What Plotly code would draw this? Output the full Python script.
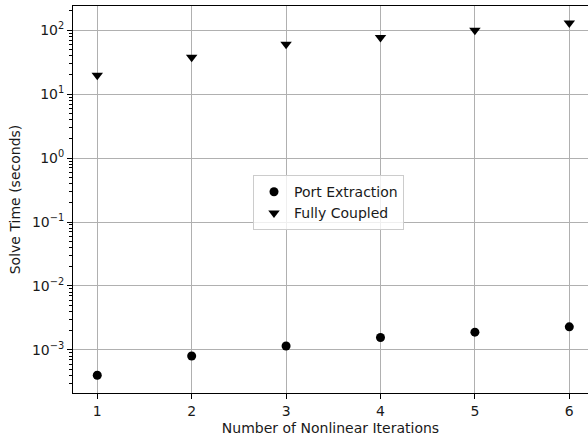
import plotly.graph_objects as go

iterations = [1, 2, 3, 4, 5, 6]
port_extraction = [4.0e-4, 8.0e-4, 1.15e-3, 1.56e-3, 1.89e-3, 2.29e-3]
fully_coupled = [19.8, 37.8, 60.5, 77.0, 100.0, 130.0]

ytick_vals = [1e-3, 1e-2, 1e-1, 1e0, 1e1, 1e2]
ytick_text = ["10<sup>−3</sup>", "10<sup>−2</sup>", "10<sup>−1</sup>",
              "10<sup>0</sup>", "10<sup>1</sup>", "10<sup>2</sup>"]
xtick_vals = [1, 2, 3, 4, 5, 6]
minor_vals = [m * 10.0 ** e for e in range(-4, 3) for m in range(2, 10)]

font = "DejaVu Sans"
txt = "#1a1a1a"

fig = go.Figure()
fig.add_trace(go.Scatter(x=iterations, y=port_extraction, mode="markers",
                         name="Port Extraction",
                         marker=dict(symbol="circle", size=9, color="black")))
fig.add_trace(go.Scatter(x=iterations, y=fully_coupled, mode="markers",
                         name="Fully Coupled",
                         marker=dict(symbol="triangle-down", size=10, color="black")))

fig.update_layout(
    width=588, height=438,
    margin=dict(l=73, r=0, t=6, b=45),
    paper_bgcolor="white", plot_bgcolor="white",
    font=dict(family=font, size=14, color=txt),
    showlegend=True,
    legend=dict(x=0.3495, y=0.563, xanchor="left", yanchor="top",
                bgcolor="rgba(255,255,255,0.8)", bordercolor="#cccccc", borderwidth=1,
                font=dict(family=font, size=14, color=txt),
                tracegroupgap=0),
)
fig.update_xaxes(
    range=[0.743, 6.198],
    tickvals=xtick_vals,
    ticks="outside", ticklen=5, tickwidth=1, tickcolor="black",
    showline=True, linecolor="black", linewidth=1, mirror=True,
    showgrid=True, gridcolor="#b0b0b0", gridwidth=1,
    zeroline=False,
    title=dict(text="Number of Nonlinear Iterations", standoff=5,
               font=dict(family=font, size=14, color=txt)),
    tickfont=dict(family=font, size=14, color=txt),
)
fig.update_yaxes(
    type="log",
    range=[-3.675, 2.379],
    tickvals=ytick_vals, ticktext=ytick_text,
    ticks="outside", ticklen=5, tickwidth=1, tickcolor="black",
    minor=dict(tickmode="array", tickvals=minor_vals, ticks="outside",
               ticklen=3, tickwidth=0.8, tickcolor="black", showgrid=False),
    showline=True, linecolor="black", linewidth=1, mirror=False,
    showgrid=True, gridcolor="#b0b0b0", gridwidth=1,
    zeroline=False,
    title=dict(text="Solve Time (seconds)", standoff=8,
               font=dict(family=font, size=14, color=txt)),
    tickfont=dict(family=font, size=14, color=txt),
)

fig.write_html("out.html")
